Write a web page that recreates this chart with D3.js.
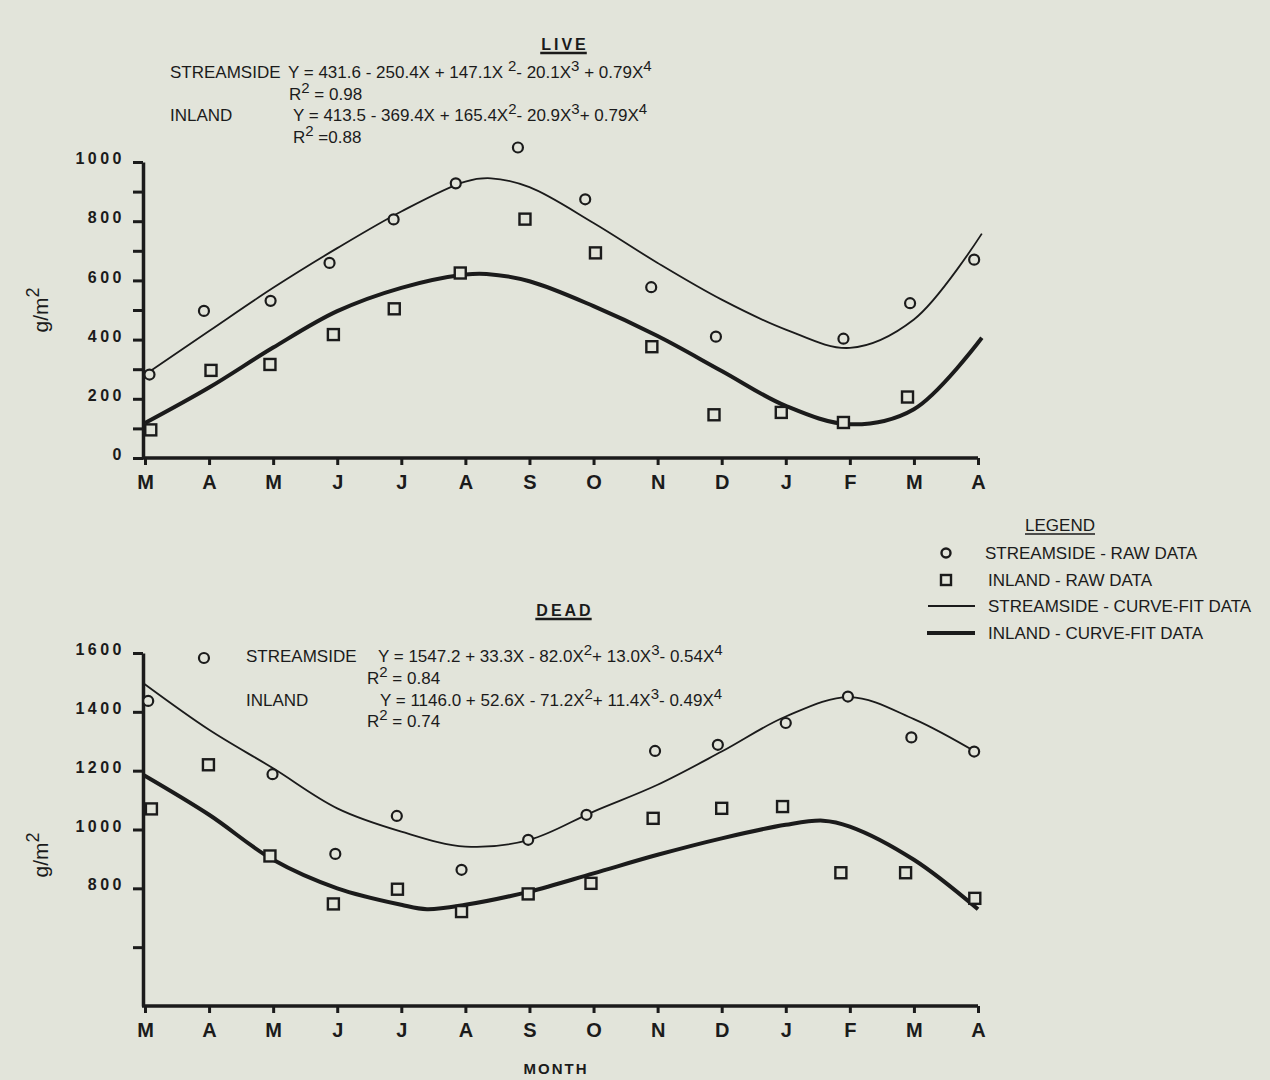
<!DOCTYPE html>
<html>
<head>
<meta charset="utf-8">
<script src="https://cdn.jsdelivr.net/npm/d3@7"></script>
<style>
	body { margin: 0; background: #e2e4da; }
	svg { display: block; font-family: "Liberation Sans", Arial, sans-serif; }
</style>
</head>
<body>
<div id="chart"></div>
<script>
var width = 1270,
	height = 1080;

// month ticks, march to april of the next year
var months = ["M", "A", "M", "J", "J", "A", "S", "O", "N", "D", "J", "F", "M", "A"];

// LIVE - raw data (x = month index, y = g/m2)
var liveStreamX = [0.07, 0.92, 1.96, 2.88, 3.88, 4.85, 5.82, 6.87, 7.9, 8.91, 10.9, 11.94, 12.94];
var liveStreamY = [282, 497, 531, 659, 806, 928, 1049, 874, 577, 410, 403, 523, 670];
var liveInlandX = [0.09, 1.03, 1.95, 2.94, 3.89, 4.92, 5.93, 7.03, 7.91, 8.88, 9.93, 10.9, 11.9];
var liveInlandY = [95, 296, 316, 417, 504, 625, 807, 693, 376, 146, 154, 120, 206];

// LIVE - curve fit
var liveStreamFitX = [0.05, 1, 2, 3, 4, 5, 5.4, 6, 7, 8, 9, 10, 11, 12, 13.06];
var liveStreamFitY = [289, 429, 575, 709, 833, 934, 945, 915, 794, 659, 535, 434, 372, 468, 758];
var liveInlandFitX = [0, 1, 2, 3, 4, 5, 5.33, 6, 7, 8, 9, 10, 11, 12, 13.06];
var liveInlandFitY = [118, 238, 373, 496, 575, 620, 622, 597, 513, 412, 294, 176, 114, 165, 406];

// DEAD - raw data
var deadStreamX = [0.05, 0.92, 1.99, 2.97, 3.93, 4.94, 5.98, 6.89, 7.96, 8.94, 10.0, 10.97, 11.96, 12.94];
var deadStreamY = [1437, 1583, 1188, 917, 1046, 863, 965, 1050, 1267, 1288, 1362, 1452, 1313, 1265];
var deadInlandX = [0.1, 0.99, 1.95, 2.94, 3.94, 4.94, 5.98, 6.96, 7.93, 9.0, 9.95, 10.86, 11.87, 12.95];
var deadInlandY = [1070, 1220, 910, 747, 797, 721, 781, 817, 1038, 1072, 1078, 853, 853, 766];

// DEAD - curve fit
var deadStreamFitX = [-0.03, 1, 2, 3, 4, 5, 6, 7, 8, 9, 10, 11, 12, 13];
var deadStreamFitY = [1498, 1339, 1208, 1072, 993, 942, 965, 1061, 1152, 1265, 1384, 1450, 1375, 1259];
var deadInlandFitX = [-0.03, 1, 2, 3, 4, 4.4, 5, 6, 7, 8, 9, 10, 10.58, 11, 12, 13];
var deadInlandFitY = [1186, 1050, 897, 800, 744, 729, 744, 789, 851, 914, 970, 1016, 1030, 1010, 897, 729];

// y ticks
var liveTicks = [0, 100, 200, 300, 400, 500, 600, 700, 800, 900, 1000];
var deadTicks = [600, 800, 1000, 1200, 1400, 1600];

// equation text, ^n = superscript
var liveLabels = ["STREAMSIDE", "", "INLAND", ""];
var liveEq = ["Y = 431.6 - 250.4X + 147.1X ^2- 20.1X^3 + 0.79X^4", "R^2 = 0.98",
	"Y = 413.5 - 369.4X + 165.4X^2- 20.9X^3+ 0.79X^4", "R^2 =0.88"];
var deadLabels = ["STREAMSIDE", "", "INLAND", ""];
var deadEq = ["Y = 1547.2 + 33.3X - 82.0X^2+ 13.0X^3- 0.54X^4", "R^2 = 0.84",
	"Y = 1146.0 + 52.6X - 71.2X^2+ 11.4X^3- 0.49X^4", "R^2 = 0.74"];

var legendItems = ["STREAMSIDE - RAW DATA", "INLAND - RAW DATA", "STREAMSIDE - CURVE-FIT DATA", "INLAND - CURVE-FIT DATA"];

var ink = "#1b1b1b",
	paper = "#e2e4da";

var svg = d3.select("#chart")
	.append("svg")
	.attr("width", width)
	.attr("height", height);

svg.append("rect")
	.attr("width", width)
	.attr("height", height)
	.attr("fill", paper);

var x = d3.scaleLinear()
	.domain([0, 13])
	.range([145, 978]);

var yLive = d3.scaleLinear()
	.domain([0, 1000])
	.range([458, 162]);

var yDead = d3.scaleLinear()
	.domain([400, 1600])
	.range([1006, 653]);

//draws one panel
function panel(y, ticks, tickFmt, sx, sy, ix, iy, sfx, sfy, ifx, ify) {
	var g = svg.append("g");

	// x axis
	var xa = g.append("g")
		.attr("transform", "translate(0," + y.range()[0] + ")")
		.call(d3.axisBottom(x)
			.tickValues(d3.range(0, 14))
			.tickFormat(function(d) { return months[d]; })
			.tickSize(7)
			.tickSizeOuter(0)
			.tickPadding(10));
	xa.select(".domain").attr("stroke", ink).attr("stroke-width", 3.5)
		.attr("d", "M" + (x(0) - 3) + ",0H" + x(13));
	xa.selectAll(".tick line").attr("stroke", ink).attr("stroke-width", 3);
	xa.selectAll(".tick text")
		.attr("fill", ink)
		.style("font-size", "20px")
		.style("font-weight", "bold");

	// y axis
	var ya = g.append("g")
		.attr("transform", "translate(" + (x(0) - 2) + ",0)")
		.call(d3.axisLeft(y)
			.tickValues(ticks)
			.tickFormat(tickFmt)
			.tickSize(10)
			.tickSizeOuter(0)
			.tickPadding(8));
	ya.select(".domain").attr("stroke", ink).attr("stroke-width", 3.5);
	ya.selectAll(".tick line").attr("stroke", ink).attr("stroke-width", 3);
	ya.selectAll(".tick text")
		.attr("fill", ink)
		.attr("dy", "0.1em")
		.style("font-size", "16px")
		.style("font-weight", "bold")
		.style("letter-spacing", "3.5px");

	var line = d3.line()
		.x(function(d) { return x(d[0]); })
		.y(function(d) { return y(d[1]); })
		.curve(d3.curveCatmullRom.alpha(0.5));

	g.append("path")
		.attr("d", line(d3.zip(sfx, sfy)))
		.attr("fill", "none")
		.attr("stroke", ink)
		.attr("stroke-width", 1.8);

	g.append("path")
		.attr("d", line(d3.zip(ifx, ify)))
		.attr("fill", "none")
		.attr("stroke", ink)
		.attr("stroke-width", 4);

	g.selectAll(".circ")
		.data(d3.zip(sx, sy))
		.enter()
		.append("circle")
		.attr("cx", function(d) { return x(d[0]); })
		.attr("cy", function(d) { return y(d[1]); })
		.attr("r", 5)
		.attr("fill", paper)
		.attr("stroke", ink)
		.attr("stroke-width", 2.2);

	g.selectAll(".sq")
		.data(d3.zip(ix, iy))
		.enter()
		.append("rect")
		.attr("x", function(d) { return x(d[0]) - 5.5; })
		.attr("y", function(d) { return y(d[1]) - 5.5; })
		.attr("width", 11)
		.attr("height", 11)
		.attr("fill", paper)
		.attr("stroke", ink)
		.attr("stroke-width", 2.4);
}

panel(yLive, liveTicks,
	function(d) { return d % 200 == 0 ? d : ""; },
	liveStreamX, liveStreamY, liveInlandX, liveInlandY,
	liveStreamFitX, liveStreamFitY, liveInlandFitX, liveInlandFitY);

panel(yDead, deadTicks,
	function(d) { return d >= 800 ? d : ""; },
	deadStreamX, deadStreamY, deadInlandX, deadInlandY,
	deadStreamFitX, deadStreamFitY, deadInlandFitX, deadInlandFitY);

// text with ^ superscripts
function eqText(str, px, py) {
	var t = svg.append("text")
		.attr("x", px)
		.attr("y", py)
		.attr("fill", ink)
		.style("font-size", "17px");
	var parts = str.split(/\^(\d)/);
	parts.forEach(function(p, k) {
		if (p === "") return;
		if (k % 2 == 1) {
			t.append("tspan").attr("dy", -7).style("font-size", "15px").text(p);
		} else {
			t.append("tspan").attr("dy", k > 0 ? 7 : 0).text(p);
		}
	});
}

function eqBlock(labels, eqs, lx, ex, rows) {
	labels.forEach(function(l, k) {
		if (l) svg.append("text")
			.attr("x", lx)
			.attr("y", rows[k])
			.attr("fill", ink)
			.style("font-size", "17px")
			.text(l);
		eqText(eqs[k], ex[k], rows[k]);
	});
}

eqBlock(liveLabels, liveEq, 170, [288, 289, 293, 293], [78, 100, 121, 143]);
eqBlock(deadLabels, deadEq, 246, [378, 367, 380, 367], [662, 684, 706, 727]);

// titles
function title(str, cx, by, size, spacing, underline) {
	var t = svg.append("text")
		.attr("x", cx)
		.attr("y", by)
		.attr("text-anchor", "middle")
		.attr("fill", ink)
		.style("font-size", size + "px")
		.style("font-weight", "bold")
		.style("letter-spacing", spacing + "px")
		.text(str);
	if (underline) {
		var w = t.node().getComputedTextLength();
		svg.append("line")
			.attr("x1", cx - w / 2 - 1)
			.attr("x2", cx + w / 2 - spacing + 1)
			.attr("y1", by + 3)
			.attr("y2", by + 3)
			.attr("stroke", ink)
			.attr("stroke-width", 2.5);
	}
}

title("LIVE", 565, 50, 16, 3, true);
title("DEAD", 565, 616, 16, 3, true);
title("MONTH", 556, 1074, 15, 2, false);

// y titles
[310, 855].forEach(function(cy) {
	var t = svg.append("text")
		.attr("transform", "translate(48," + cy + ") rotate(-90)")
		.attr("text-anchor", "middle")
		.attr("fill", ink)
		.style("font-size", "21px");
	t.append("tspan").text("g/m");
	t.append("tspan").attr("dy", -9).style("font-size", "18px").text("2");
});

//legend
var lg = svg.append("g");
lg.append("text")
	.attr("x", 1060)
	.attr("y", 531)
	.attr("text-anchor", "middle")
	.attr("fill", ink)
	.style("font-size", "17px")
	.text("LEGEND");
lg.append("line")
	.attr("x1", 1025).attr("x2", 1095)
	.attr("y1", 534).attr("y2", 534)
	.attr("stroke", ink).attr("stroke-width", 1.5);

var rowsY = [553, 580, 606, 633];
lg.selectAll(".lt")
	.data(legendItems)
	.enter()
	.append("text")
	.attr("x", function(d, k) { return k == 0 ? 985 : 988; })
	.attr("y", function(d, k) { return rowsY[k] + 6; })
	.attr("fill", ink)
	.style("font-size", "17px")
	.text(function(d) { return d; });

lg.append("circle")
	.attr("cx", 946).attr("cy", rowsY[0])
	.attr("r", 4.5)
	.attr("fill", "none").attr("stroke", ink).attr("stroke-width", 2.4);
lg.append("rect")
	.attr("x", 941).attr("y", rowsY[1] - 5)
	.attr("width", 10).attr("height", 10)
	.attr("fill", "none").attr("stroke", ink).attr("stroke-width", 2.4);
lg.append("line")
	.attr("x1", 928).attr("x2", 975)
	.attr("y1", rowsY[2]).attr("y2", rowsY[2])
	.attr("stroke", ink).attr("stroke-width", 1.8);
lg.append("line")
	.attr("x1", 927).attr("x2", 975)
	.attr("y1", rowsY[3]).attr("y2", rowsY[3])
	.attr("stroke", ink).attr("stroke-width", 4);
</script>
</body>
</html>
